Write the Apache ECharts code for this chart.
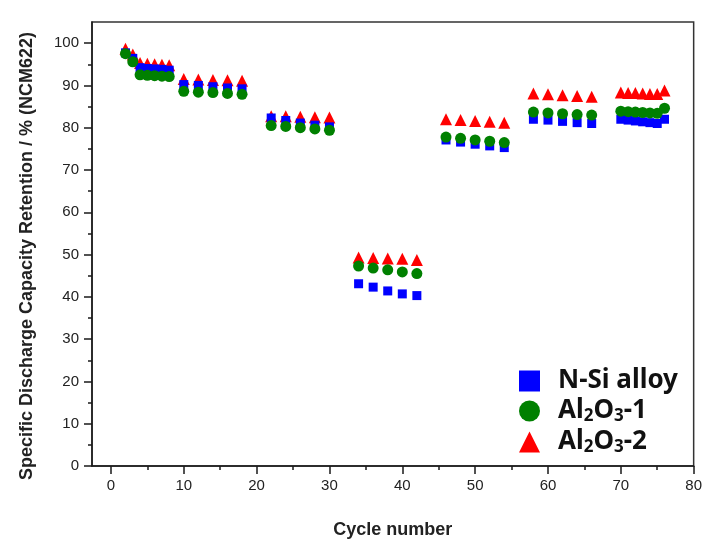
<!DOCTYPE html>
<html>
<head>
<meta charset="utf-8">
<script src="https://cdn.jsdelivr.net/npm/echarts@6/dist/echarts.min.js"></script>
<style>
  html, body { margin: 0; padding: 0; background: #fff; }
  #chart { width: 705px; height: 544px; }
</style>
</head>
<body>
<div id="chart"></div>
<script>
// cycle numbers where a point was measured
var cycles = [2, 3, 4, 5, 6, 7, 8,
  10, 12, 14, 16, 18,
  22, 24, 26, 28, 30,
  34, 36, 38, 40, 42,
  46, 48, 50, 52, 54,
  58, 60, 62, 64, 66,
  70, 71, 72, 73, 74, 75, 76]

var nSiAlloy = [97.7, 96.4, 94.2, 94.0, 93.9, 93.8, 93.6,
  90.2, 90.0, 89.7, 89.4, 89.2,
  82.3, 81.7, 81.1, 80.6, 80.2,
  43.1, 42.3, 41.4, 40.7, 40.3,
  77.1, 76.6, 76.1, 75.7, 75.3,
  82.0, 81.8, 81.5, 81.2, 81.0,
  82.0, 81.8, 81.6, 81.4, 81.2, 81.0, 82.0]

var al2o3One = [97.5, 95.6, 92.5, 92.4, 92.3, 92.2, 92.1,
  88.6, 88.4, 88.3, 88.1, 87.9,
  80.5, 80.3, 80.0, 79.7, 79.4,
  47.3, 46.8, 46.4, 45.9, 45.5,
  77.8, 77.5, 77.1, 76.8, 76.5,
  83.7, 83.5, 83.3, 83.1, 83.0,
  83.9, 83.8, 83.7, 83.6, 83.5, 83.4, 84.6]

var al2o3Two = [98.7, 97.3, 95.3, 95.1, 95.0, 94.9, 94.8,
  91.5, 91.4, 91.3, 91.2, 91.1,
  82.7, 82.7, 82.6, 82.5, 82.4,
  49.3, 49.2, 49.1, 49.0, 48.7,
  82.0, 81.8, 81.6, 81.4, 81.2,
  88.1, 87.9, 87.7, 87.5, 87.3,
  88.3, 88.2, 88.2, 88.1, 88.0, 88.0, 88.8]

var xTicks = [0, 10, 20, 30, 40, 50, 60, 70, 80]
var xMinor = [5, 15, 25, 35, 45, 55, 65, 75]
var yTicks = [0, 10, 20, 30, 40, 50, 60, 70, 80, 90, 100]
var yMinor = [5, 15, 25, 35, 45, 55, 65, 75, 85, 95]

function pairs (vals) {
  return cycles.map(function (c, i) { return [c, vals[i]] })
}

var chart = echarts.init(document.getElementById('chart'))

var axisColor = '#1a1a1a'
var labelFont = { fontFamily: 'Liberation Sans', fontSize: 15, color: '#222' }

var option = {
  animation: false,
  backgroundColor: '#fff',
  grid: {
    left: 92,
    right: 11,
    top: 22,
    bottom: 74,
    show: true,
    borderColor: '#333',
    borderWidth: 1.5
  },
  legend: {
    orient: 'vertical',
    left: 514,
    top: 363,
    itemWidth: 21,
    itemHeight: 21,
    itemGap: 4,
    selectedMode: false,
    data: [
      { name: 'N-Si alloy', icon: 'rect' },
      { name: 'Al2O3-1', icon: 'circle' },
      { name: 'Al2O3-2', icon: 'triangle' }
    ],
    formatter: function (name) {
      if (name === 'Al2O3-1') return '{b|Al}{s|2}{b|O}{s|3}{b|-1}'
      if (name === 'Al2O3-2') return '{b|Al}{s|2}{b|O}{s|3}{b|-2}'
      return '{b|' + name + '}'
    },
    textStyle: {
      padding: [0, 0, 0, 13],
      rich: {
        b: { fontFamily: 'Noto Sans', fontWeight: 'bold', fontSize: 26, color: '#111', lineHeight: 28 },
        s: { fontFamily: 'Noto Sans', fontWeight: 'bold', fontSize: 17, color: '#111', lineHeight: 14, verticalAlign: 'bottom' }
      }
    }
  },
  xAxis: [{
    type: 'value',
    min: -2.6,
    max: 80,
    name: 'Cycle number',
    nameLocation: 'middle',
    nameGap: 55,
    nameTextStyle: { fontFamily: 'Liberation Sans', fontWeight: 'bold', fontSize: 18, color: '#222' },
    splitLine: { show: false },
    axisLine: { onZero: false, lineStyle: { color: axisColor, width: 1.5 } },
    axisTick: { customValues: xTicks, length: 8, lineStyle: { color: axisColor, width: 1.5 } },
    axisLabel: Object.assign({ customValues: xTicks, margin: 12 }, labelFont)
  }, {
    type: 'value',
    min: -2.6,
    max: 80,
    position: 'bottom',
    splitLine: { show: false },
    axisLine: { show: false, onZero: false },
    axisTick: { customValues: xMinor, length: 4, lineStyle: { color: axisColor, width: 1.5 } },
    axisLabel: { show: false }
  }],
  yAxis: [{
    type: 'value',
    min: 0,
    max: 105,
    name: 'Specific Discharge Capacity Retention / % (NCM622)',
    nameLocation: 'middle',
    nameGap: 56,
    nameTextStyle: { fontFamily: 'Liberation Sans', fontWeight: 'bold', fontSize: 18, color: '#222', padding: [0, 24, 0, 0] },
    splitLine: { show: false },
    axisLine: { onZero: false, lineStyle: { color: axisColor, width: 1.5 } },
    axisTick: { customValues: yTicks, length: 8, lineStyle: { color: axisColor, width: 1.5 } },
    axisLabel: Object.assign({ customValues: yTicks, margin: 13 }, labelFont)
  }, {
    type: 'value',
    min: 0,
    max: 105,
    position: 'left',
    splitLine: { show: false },
    axisLine: { show: false, onZero: false },
    axisTick: { customValues: yMinor, length: 4, lineStyle: { color: axisColor, width: 1.5 } },
    axisLabel: { show: false }
  }],
  series: [{
    name: 'N-Si alloy',
    type: 'scatter',
    symbol: 'rect',
    symbolSize: 9,
    z: 3,
    itemStyle: { color: '#0000ff', opacity: 1 },
    data: pairs(nSiAlloy)
  }, {
    name: 'Al2O3-1',
    type: 'scatter',
    symbol: 'circle',
    symbolSize: 11,
    z: 4,
    itemStyle: { color: '#008000', opacity: 1 },
    data: pairs(al2o3One)
  }, {
    name: 'Al2O3-2',
    type: 'scatter',
    symbol: 'triangle',
    symbolSize: 12,
    z: 2,
    itemStyle: { color: '#ff0000', opacity: 1 },
    data: pairs(al2o3Two)
  }]
}

chart.setOption(option)
</script>
</body>
</html>
